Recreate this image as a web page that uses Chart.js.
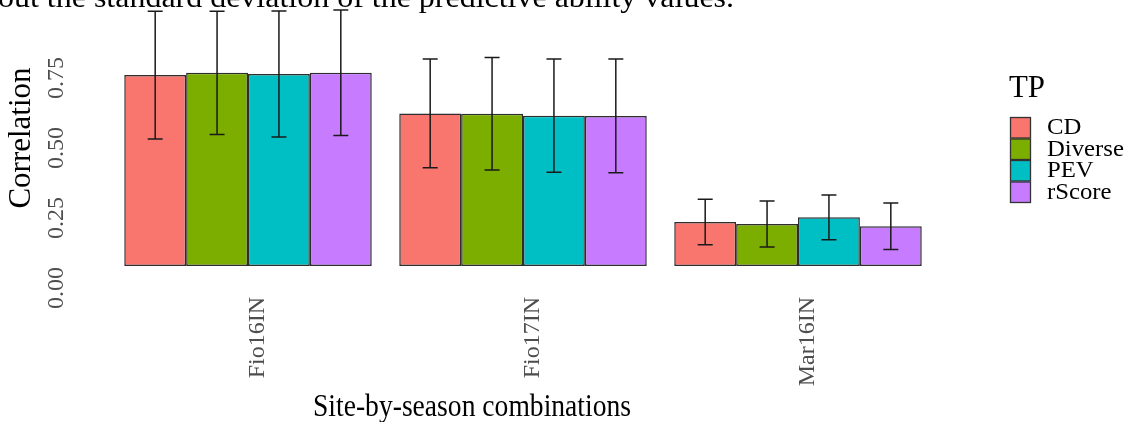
<!DOCTYPE html>
<html>
<head>
<meta charset="utf-8">
<script src="https://cdn.jsdelivr.net/npm/chart.js@4.4.1/dist/chart.umd.min.js"></script>
<style>
  html, body { margin: 0; padding: 0; background: #fff; overflow: hidden; }
  #wrap { width: 1130px; height: 422px; }
</style>
</head>
<body>
<div id="wrap"><canvas id="corrChart" width="1130" height="422"></canvas></div>
<script>
// categories and series (mean correlation and its standard deviation)
const sites = ['Fio16IN', 'Fio17IN', 'Mar16IN'];
const methods = ['CD', 'Diverse', 'PEV', 'rScore'];
const cdMean = [0.682, 0.545, 0.157];
const cdSd = [0.228, 0.194, 0.081];
const diverseMean = [0.690, 0.544, 0.150];
const diverseSd = [0.220, 0.201, 0.082];
const pevMean = [0.686, 0.537, 0.174];
const pevSd = [0.225, 0.202, 0.080];
const rscoreMean = [0.690, 0.536, 0.142];
const rscoreSd = [0.224, 0.203, 0.083];
const yTicks = [0, 0.25, 0.5, 0.75];

const colors = ['#F8766D', '#7CAE00', '#00BFC4', '#C77CFF'];
const means = [cdMean, diverseMean, pevMean, rscoreMean];
const sds = [cdSd, diverseSd, pevSd, rscoreSd];
const SERIF = "'Liberation Serif', 'Times New Roman', serif";

// text squeezed horizontally to a target width (the figure was scaled non-uniformly)
function squeezedText(ctx, text, x, y, width) {
    const w = ctx.measureText(text).width;
    ctx.save();
    ctx.translate(x, y);
    ctx.scale(width / w, 1);
    ctx.fillText(text, 0, 0);
    ctx.restore();
}

// Error bars, rotated y labels, titles and legend
const decorations = {
    id: 'decorations',
    afterDatasetsDraw(chart) {
        const ctx = chart.ctx;
        const y = chart.scales.y;

        // error bars (mean ± sd)
        ctx.save();
        ctx.strokeStyle = '#1a1a1a';
        ctx.lineWidth = 1.5;
        chart.data.datasets.forEach((ds, i) => {
            chart.getDatasetMeta(i).data.forEach((bar, j) => {
                const top = y.getPixelForValue(ds.data[j] + ds.sd[j]);
                const bot = y.getPixelForValue(ds.data[j] - ds.sd[j]);
                ctx.beginPath();
                ctx.moveTo(bar.x, top);
                ctx.lineTo(bar.x, bot);
                ctx.moveTo(bar.x - 7.5, top);
                ctx.lineTo(bar.x + 7.5, top);
                ctx.moveTo(bar.x - 7.5, bot);
                ctx.lineTo(bar.x + 7.5, bot);
                ctx.stroke();
            });
        });
        ctx.restore();
    },
    afterDraw(chart) {
        const ctx = chart.ctx;
        const y = chart.scales.y;
        ctx.save();

        // cut-off line of the surrounding document
        ctx.fillStyle = '#000';
        ctx.font = '30px ' + SERIF;
        ctx.textAlign = 'left';
        ctx.textBaseline = 'alphabetic';
        squeezedText(ctx, 'out the standard deviation of the predictive ability values.', -2, 7, 736);

        // y tick labels, rotated, top end at the tick
        ctx.fillStyle = '#4d4d4d';
        ctx.font = '24px ' + SERIF;
        yTicks.forEach(v => {
            ctx.save();
            ctx.translate(57, y.getPixelForValue(v) + 1);
            ctx.rotate(-Math.PI / 2);
            ctx.textAlign = 'right';
            ctx.textBaseline = 'middle';
            ctx.fillText(v.toFixed(2), 0, 0);
            ctx.restore();
        });

        // y title
        ctx.fillStyle = '#000';
        ctx.font = '31px ' + SERIF;
        ctx.save();
        ctx.translate(22, 138);
        ctx.rotate(-Math.PI / 2);
        ctx.textAlign = 'center';
        ctx.textBaseline = 'middle';
        ctx.fillText('Correlation', 0, 0);
        ctx.restore();

        // x title
        ctx.font = '31px ' + SERIF;
        ctx.textBaseline = 'alphabetic';
        squeezedText(ctx, 'Site-by-season combinations', 313, 416, 318);

        // legend
        ctx.font = '31px ' + SERIF;
        squeezedText(ctx, 'TP', 1009, 97, 36);
        ctx.font = '24px ' + SERIF;
        ctx.textBaseline = 'middle';
        methods.forEach((m, i) => {
            const ky = 117 + i * 21.5;
            ctx.fillStyle = colors[i];
            ctx.fillRect(1010, ky, 21, 21.5);
            ctx.strokeStyle = '#333';
            ctx.lineWidth = 1.3;
            ctx.strokeRect(1010.5, ky + 0.5, 20, 20.5);
            ctx.fillStyle = '#000';
            squeezedText(ctx, m, 1047, ky + 11, ctx.measureText(m).width * 1.03);
        });
        ctx.restore();
    }
};

const ctx = document.getElementById('corrChart').getContext('2d');
const corrChart = new Chart(ctx, {
    type: 'bar',
    data: {
        labels: sites,
        datasets: methods.map((m, i) => ({
            label: m,
            data: means[i],
            sd: sds[i],
            backgroundColor: colors[i],
            borderColor: '#2e2e2e',
            borderWidth: 1.5,
            borderSkipped: false,
            categoryPercentage: 0.9,
            barPercentage: 1.0
        }))
    },
    options: {
        responsive: false,
        animation: false,
        layout: { padding: { left: 110.5, right: 194.5, top: 0, bottom: 0 } },
        plugins: {
            legend: { display: false },
            tooltip: { enabled: false }
        },
        scales: {
            x: {
                grid: { display: false, drawTicks: false },
                border: { display: false },
                ticks: {
                    minRotation: 90,
                    maxRotation: 90,
                    padding: 31,
                    labelOffset: 10,
                    color: '#4d4d4d',
                    font: { family: SERIF, size: 24 }
                },
                afterFit: scale => { scale.height = 156; }
            },
            y: { display: false, min: 0, max: 0.95 }
        }
    },
    plugins: [decorations]
});
</script>
</body>
</html>
